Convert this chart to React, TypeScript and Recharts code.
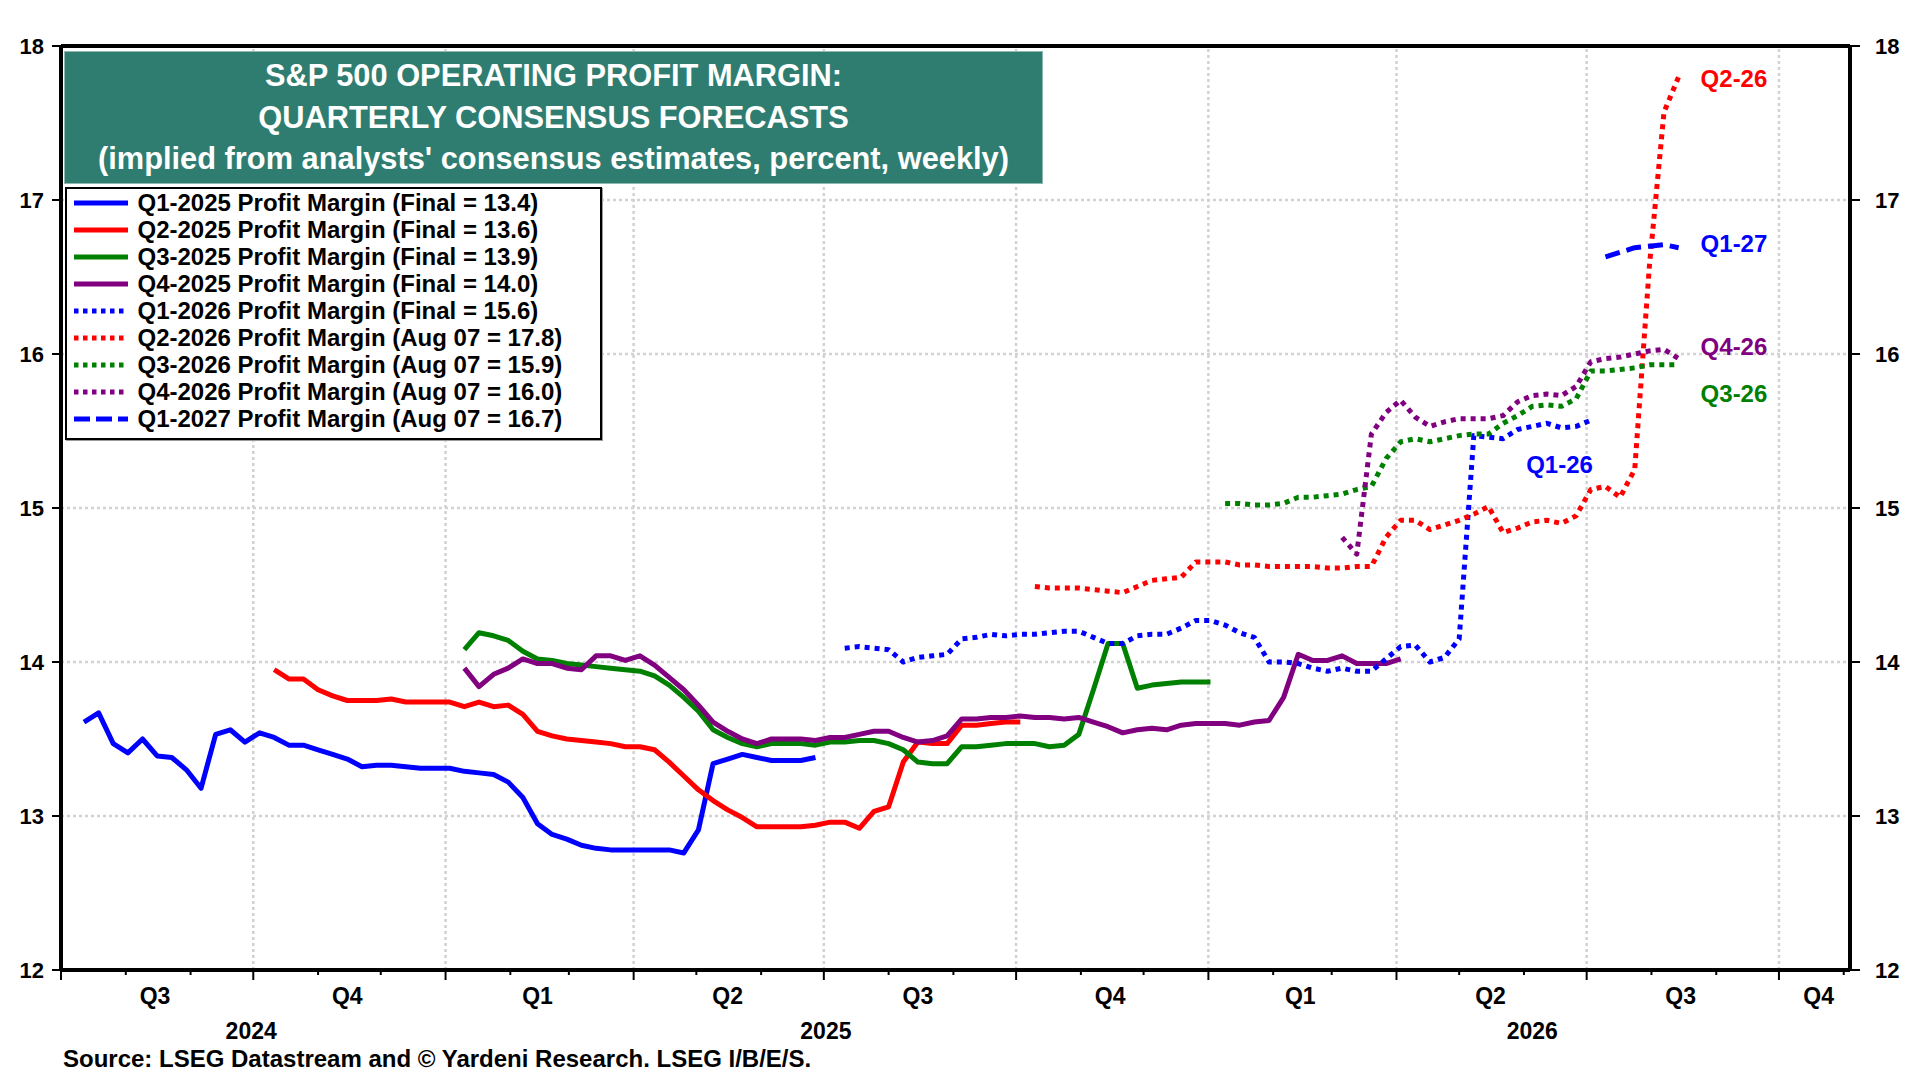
import React from 'react';
import {
  CartesianGrid,
  LabelList,
  Legend,
  Line,
  LineChart,
  ReferenceLine,
  XAxis,
  YAxis,
} from 'recharts';

// ===== colours / fonts =====
const FONT = '"Liberation Sans", Arial, Helvetica, sans-serif';
const BLUE = '#0000ff';
const RED = '#ff0000';
const GREEN = '#008000';
const PURPLE = '#800080';
const TEAL = '#2e7d70';
const GRID = '#d2d2d2';

// ===== axis =====
const AXIS_START = '2024-07-01';
const AXIS_END = '2026-11-04';
const Y_TICKS = [12, 13, 14, 15, 16, 17, 18];

const MONTH_TICKS = [
  '2024-07-01', '2024-08-01', '2024-09-01', '2024-10-01', '2024-11-01', '2024-12-01',
  '2025-01-01', '2025-02-01', '2025-03-01', '2025-04-01', '2025-05-01', '2025-06-01',
  '2025-07-01', '2025-08-01', '2025-09-01', '2025-10-01', '2025-11-01', '2025-12-01',
  '2026-01-01', '2026-02-01', '2026-03-01', '2026-04-01', '2026-05-01', '2026-06-01',
  '2026-07-01', '2026-08-01', '2026-09-01', '2026-10-01', '2026-11-01',
];
const QUARTER_STARTS = [
  '2024-07-01', '2024-10-01', '2025-01-01', '2025-04-01', '2025-07-01',
  '2025-10-01', '2026-01-01', '2026-04-01', '2026-07-01', '2026-10-01',
];
const QUARTER_LABELS = [
  { at: '2024-08-15', label: 'Q3' },
  { at: '2024-11-15', label: 'Q4' },
  { at: '2025-02-14', label: 'Q1' },
  { at: '2025-05-16', label: 'Q2' },
  { at: '2025-08-15', label: 'Q3' },
  { at: '2025-11-15', label: 'Q4' },
  { at: '2026-02-14', label: 'Q1' },
  { at: '2026-05-16', label: 'Q2' },
  { at: '2026-08-15', label: 'Q3' },
  { at: '2026-10-20', label: 'Q4' },
];
const YEAR_LABELS = [
  { at: '2024-09-30', label: '2024' },
  { at: '2025-07-02', label: '2025' },
  { at: '2026-06-05', label: '2026' },
];

// ===== weekly consensus values =====
const Q1_2025 = [
  13.61, 13.67, 13.47, 13.41, 13.5, 13.39, 13.38, 13.3, 13.18, 13.53, 13.56, 13.48, 13.54,
  13.51, 13.46, 13.46, 13.43, 13.4, 13.37, 13.32, 13.33, 13.33, 13.32, 13.31, 13.31, 13.31,
  13.29, 13.28, 13.27, 13.22, 13.12, 12.95, 12.88, 12.85, 12.81, 12.79, 12.78, 12.78, 12.78,
  12.78, 12.78, 12.76, 12.91, 13.34, 13.37, 13.4, 13.38, 13.36, 13.36, 13.36, 13.38,
];
const Q2_2025 = [
  13.95, 13.89, 13.89, 13.82, 13.78, 13.75, 13.75, 13.75, 13.76, 13.74, 13.74, 13.74, 13.74,
  13.71, 13.74, 13.71, 13.72, 13.66, 13.55, 13.52, 13.5, 13.49, 13.48, 13.47, 13.45, 13.45,
  13.43, 13.35, 13.26, 13.17, 13.1, 13.04, 12.99, 12.93, 12.93, 12.93, 12.93, 12.94, 12.96,
  12.96, 12.92, 13.03, 13.06, 13.35, 13.48, 13.47, 13.47, 13.59, 13.59, 13.6, 13.61, 13.61,
];
const Q3_2025 = [
  14.08, 14.19, 14.17, 14.14, 14.07, 14.02, 14.01, 13.99, 13.98, 13.97, 13.96, 13.95, 13.94,
  13.91, 13.85, 13.77, 13.68, 13.56, 13.51, 13.47, 13.45, 13.47, 13.47, 13.47, 13.46, 13.48,
  13.48, 13.49, 13.49, 13.47, 13.43, 13.35, 13.34, 13.34, 13.45, 13.45, 13.46, 13.47, 13.47,
  13.47, 13.45, 13.46, 13.53, 13.82, 14.12, 14.12, 13.83, 13.85, 13.86, 13.87, 13.87, 13.87,
];
const Q4_2025 = [
  13.96, 13.84, 13.92, 13.96, 14.02, 13.99, 13.99, 13.96, 13.95, 14.04, 14.04, 14.01, 14.04,
  13.98, 13.9, 13.82, 13.72, 13.61, 13.55, 13.5, 13.47, 13.5, 13.5, 13.5, 13.49, 13.51,
  13.51, 13.53, 13.55, 13.55, 13.51, 13.48, 13.49, 13.52, 13.63, 13.63, 13.64, 13.64, 13.65,
  13.64, 13.64, 13.63, 13.64, 13.61, 13.58, 13.54, 13.56, 13.57, 13.56, 13.59, 13.6, 13.6,
  13.6, 13.59, 13.61, 13.62, 13.77, 14.05, 14.01, 14.01, 14.04, 13.99, 13.99, 13.99, 14.02,
];
const Q1_2026 = [
  14.09, 14.1, 14.09, 14.08, 14.0, 14.03, 14.04, 14.05, 14.15, 14.16, 14.18, 14.17, 14.18,
  14.18, 14.19, 14.2, 14.2, 14.16, 14.12, 14.12, 14.17, 14.18, 14.18, 14.22, 14.27, 14.27,
  14.24, 14.19, 14.16, 14.0, 14.0, 13.99, 13.96, 13.94, 13.96, 13.94, 13.94, 14.02, 14.1,
  14.11, 14.0, 14.03, 14.15, 15.47, 15.46, 15.45, 15.51, 15.53, 15.55, 15.52, 15.53, 15.57,
];
const Q2_2026 = [
  14.49, 14.48, 14.48, 14.48, 14.47, 14.46, 14.45, 14.49, 14.53, 14.54, 14.55, 14.65, 14.65,
  14.65, 14.63, 14.63, 14.62, 14.62, 14.62, 14.62, 14.61, 14.61, 14.62, 14.62, 14.81, 14.92,
  14.92, 14.86, 14.89, 14.92, 14.96, 15.01, 14.84, 14.87, 14.91, 14.92, 14.9, 14.95, 15.12,
  15.14, 15.07, 15.25, 16.57, 17.57, 17.8,
];
const Q3_2026 = [
  15.03, 15.03, 15.02, 15.02, 15.03, 15.07, 15.07, 15.08, 15.09, 15.12, 15.14, 15.32, 15.43,
  15.45, 15.43, 15.45, 15.47, 15.48, 15.48, 15.55, 15.6, 15.66, 15.67, 15.66, 15.71, 15.89,
  15.89, 15.9, 15.91, 15.93, 15.93, 15.93,
];
const Q4_2026 = [
  14.81, 14.7, 15.48, 15.62, 15.7, 15.59, 15.53, 15.56, 15.58, 15.58, 15.58, 15.6, 15.69,
  15.73, 15.74, 15.73, 15.79, 15.95, 15.97, 15.98, 16.0, 16.02, 16.03, 15.97,
];
const Q1_2027 = [16.63, 16.66, 16.69, 16.7, 16.71, 16.69];

const DOTS = '5 5';
const DASH = '15 7';

interface EndLabel { text: string; dx: number; dy: number; anchor: 'start' | 'end' }
interface Series {
  key: string;
  name: string;
  start: string; // first weekly observation
  values: number[];
  color: string;
  dash?: string;
  legendDash?: string;
  end?: EndLabel;
}

const SERIES: Series[] = [
  { key: 'q125', name: 'Q1-2025 Profit Margin (Final = 13.4)', start: '2024-07-12', values: Q1_2025, color: BLUE },
  { key: 'q225', name: 'Q2-2025 Profit Margin (Final = 13.6)', start: '2024-10-11', values: Q2_2025, color: RED },
  { key: 'q325', name: 'Q3-2025 Profit Margin (Final = 13.9)', start: '2025-01-10', values: Q3_2025, color: GREEN },
  { key: 'q425', name: 'Q4-2025 Profit Margin (Final = 14.0)', start: '2025-01-10', values: Q4_2025, color: PURPLE },
  {
    key: 'q126', name: 'Q1-2026 Profit Margin (Final = 15.6)', start: '2025-07-11', values: Q1_2026,
    color: BLUE, dash: DOTS, legendDash: '4.5 4.5', end: { text: 'Q1-26', dx: 2, dy: 44, anchor: 'end' },
  },
  {
    key: 'q226', name: 'Q2-2026 Profit Margin (Aug 07 = 17.8)', start: '2025-10-10', values: Q2_2026,
    color: RED, dash: DOTS, legendDash: '4.5 4.5', end: { text: 'Q2-26', dx: 22, dy: 2, anchor: 'start' },
  },
  {
    key: 'q326', name: 'Q3-2026 Profit Margin (Aug 07 = 15.9)', start: '2026-01-09', values: Q3_2026,
    color: GREEN, dash: DOTS, legendDash: '4.5 4.5', end: { text: 'Q3-26', dx: 22, dy: 29, anchor: 'start' },
  },
  {
    key: 'q426', name: 'Q4-2026 Profit Margin (Aug 07 = 16.0)', start: '2026-03-06', values: Q4_2026,
    color: PURPLE, dash: DOTS, legendDash: '4.5 4.5', end: { text: 'Q4-26', dx: 22, dy: -12, anchor: 'start' },
  },
  {
    key: 'q127', name: 'Q1-2027 Profit Margin (Aug 07 = 16.7)', start: '2026-07-10', values: Q1_2027,
    color: BLUE, dash: DASH, legendDash: '16 6', end: { text: 'Q1-27', dx: 22, dy: -4, anchor: 'start' },
  },
];

// ===== helpers =====
const T0 = Date.parse(AXIS_START + 'T00:00:00Z');
const toDay = (iso: string) => (Date.parse(iso + 'T00:00:00Z') - T0) / 86400000;

const weekly = (s: Series) => {
  const d0 = toDay(s.start);
  return s.values.map((v, i) => ({ x: d0 + 7 * i, v }));
};

const MONTH_SET = new Set(MONTH_TICKS.map(toDay));
const QSTART_SET = new Set(QUARTER_STARTS.map(toDay));
const QLABEL_MAP = new Map(QUARTER_LABELS.map((q) => [toDay(q.at), q.label]));
const YEAR_MAP = new Map(YEAR_LABELS.map((q) => [toDay(q.at), q.label]));
const X_TICKS = [
  ...MONTH_TICKS.map(toDay),
  ...QUARTER_LABELS.map((q) => toDay(q.at)),
  ...YEAR_LABELS.map((q) => toDay(q.at)),
].sort((a, b) => a - b);

const LABEL_STYLE = { fontFamily: FONT, fontWeight: 700, fontSize: 22, fill: '#000' };

function TimeTick(props: any) {
  const { x, y, payload } = props;
  const v = payload.value as number;
  if (QSTART_SET.has(v)) {
    return <line x1={x} x2={x} y1={y} y2={y + 10} stroke="#000" strokeWidth={2} />;
  }
  if (MONTH_SET.has(v)) {
    return <line x1={x} x2={x} y1={y} y2={y + 5} stroke="#000" strokeWidth={2} />;
  }
  const q = QLABEL_MAP.get(v);
  if (q) {
    return (
      <text x={x} y={y + 26} textAnchor="middle" dominantBaseline="central" {...LABEL_STYLE} fontSize={23}>
        {q}
      </text>
    );
  }
  const yr = YEAR_MAP.get(v);
  if (yr) {
    return (
      <text x={x} y={y + 61} textAnchor="middle" dominantBaseline="central" {...LABEL_STYLE} fontSize={23}>
        {yr}
      </text>
    );
  }
  return null;
}

function endLabel(s: Series) {
  const last = s.values.length - 1;
  return (p: any) => {
    if (!s.end || p.index !== last) return null;
    return (
      <text
        x={Number(p.x) + s.end.dx}
        y={Number(p.y) + s.end.dy}
        textAnchor={s.end.anchor}
        dominantBaseline="central"
        fontFamily={FONT}
        fontWeight={700}
        fontSize={24}
        fill={s.color}
      >
        {s.end.text}
      </text>
    );
  };
}

function LegendBox() {
  return (
    <div
      style={{
        width: 537,
        height: 253,
        boxSizing: 'border-box',
        border: '2.5px solid #000',
        background: '#fff',
        padding: '1px 0 0 6.5px',
        fontFamily: FONT,
        fontWeight: 700,
        fontSize: 24,
        color: '#000',
        boxShadow: '1px 1px 0 #9a9a9a',
      }}
    >
      {SERIES.map((s) => (
        <div key={s.key} style={{ height: 26.9, display: 'flex', alignItems: 'center' }}>
          <svg width={54} height={10} style={{ marginRight: 10, flexShrink: 0 }}>
            <line x1={0} x2={54} y1={5} y2={5} stroke={s.color} strokeWidth={5} strokeDasharray={s.legendDash} />
          </svg>
          <span style={{ whiteSpace: 'nowrap', lineHeight: 1 }}>{s.name}</span>
        </div>
      ))}
    </div>
  );
}

export default function App() {
  return (
    <div style={{ position: 'absolute', left: 0, top: 0, width: 1920, height: 1080, background: '#fff' }}>
      <LineChart width={1920} height={1080} margin={{ top: 46, right: 0, bottom: 30, left: 0 }}>
        <CartesianGrid
          xAxisId="t"
          yAxisId="l"
          vertical={false}
          stroke={GRID}
          strokeWidth={2.5}
          strokeDasharray="3 3"
        />
        {QUARTER_STARTS.slice(1).map((d) => (
          <ReferenceLine
            key={d}
            xAxisId="t"
            yAxisId="l"
            x={toDay(d)}
            stroke={GRID}
            strokeWidth={2.5}
            strokeDasharray="3 3"
          />
        ))}
        <XAxis
          xAxisId="t"
          type="number"
          dataKey="x"
          domain={[0, toDay(AXIS_END)]}
          allowDataOverflow
          ticks={X_TICKS}
          interval={0}
          tick={<TimeTick />}
          tickLine={false}
          tickSize={0}
          tickMargin={0}
          axisLine={{ stroke: '#000', strokeWidth: 4 }}
          height={80}
        />
        <YAxis
          yAxisId="l"
          domain={[12, 18]}
          ticks={Y_TICKS}
          interval={0}
          width={61}
          tick={LABEL_STYLE}
          tickSize={9}
          tickMargin={8}
          tickLine={{ stroke: '#000', strokeWidth: 2 }}
          axisLine={{ stroke: '#000', strokeWidth: 4 }}
        />
        <YAxis
          yAxisId="r"
          orientation="right"
          domain={[12, 18]}
          ticks={Y_TICKS}
          interval={0}
          width={70}
          tick={LABEL_STYLE}
          tickSize={10}
          tickMargin={15}
          tickLine={{ stroke: '#000', strokeWidth: 2 }}
          axisLine={{ stroke: '#000', strokeWidth: 4 }}
        />
        <ReferenceLine xAxisId="t" yAxisId="l" y={18} stroke="#000" strokeWidth={4} />
        {/* invisible copy so the right-hand axis has a series and draws its ticks */}
        <Line
          xAxisId="t"
          yAxisId="r"
          data={weekly(SERIES[0])}
          dataKey="v"
          stroke="none"
          dot={false}
          activeDot={false}
          legendType="none"
          isAnimationActive={false}
        />
        {SERIES.map((s) => (
          <Line
            key={s.key}
            xAxisId="t"
            yAxisId="l"
            data={weekly(s)}
            dataKey="v"
            name={s.name}
            type="linear"
            stroke={s.color}
            strokeWidth={5}
            strokeDasharray={s.dash}
            strokeLinejoin="round"
            dot={false}
            activeDot={false}
            isAnimationActive={false}
          >
            {s.end && <LabelList dataKey="v" content={endLabel(s)} />}
          </Line>
        ))}
        <Legend
          layout="vertical"
          align="center"
          verticalAlign="middle"
          content={<LegendBox />}
          wrapperStyle={{ left: 65, top: 187, width: 537, height: 253 }}
        />
      </LineChart>

      <div
        style={{
          position: 'absolute',
          left: 64,
          top: 51,
          width: 979,
          height: 133,
          boxSizing: 'border-box',
          background: TEAL,
          border: '1px solid #8fb8b0',
          color: '#fff',
          fontFamily: FONT,
          fontWeight: 700,
          fontSize: 30.8,
          lineHeight: '41.5px',
          textAlign: 'center',
          paddingTop: 3,
        }}
      >
        <div>S&amp;P 500 OPERATING PROFIT MARGIN:</div>
        <div>QUARTERLY CONSENSUS FORECASTS</div>
        <div>(implied from analysts' consensus estimates, percent, weekly)</div>
      </div>

      <div
        style={{
          position: 'absolute',
          left: 63,
          top: 1046,
          fontFamily: FONT,
          fontWeight: 700,
          fontSize: 24,
          lineHeight: '26px',
          color: '#000',
          whiteSpace: 'nowrap',
        }}
      >
        Source: LSEG Datastream and © Yardeni Research. LSEG I/B/E/S.
      </div>
    </div>
  );
}
